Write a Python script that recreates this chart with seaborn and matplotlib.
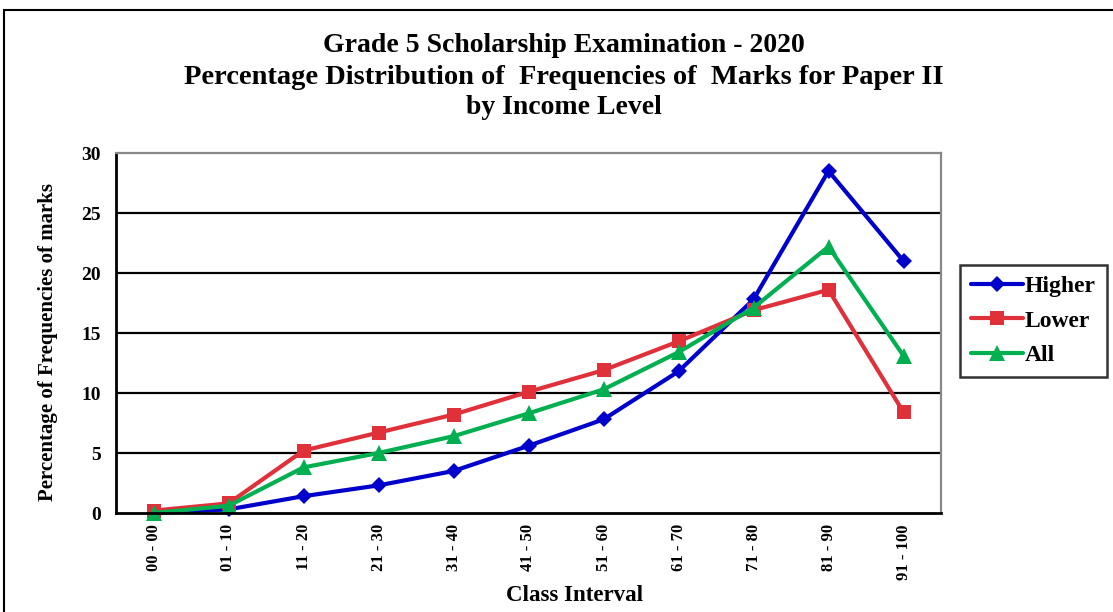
import matplotlib
matplotlib.use("Agg")
import matplotlib.pyplot as plt
import seaborn as sns
import pandas as pd
from matplotlib.patches import Rectangle

categories = ["00 - 00", "01 - 10", "11 - 20", "21 - 30", "31 - 40", "41 - 50",
              "51 - 60", "61 - 70", "71 - 80", "81 - 90", "91 - 100"]
higher = [0.0, 0.3, 1.4, 2.3, 3.5, 5.6, 7.8, 11.8, 17.8, 28.5, 21.0]
lower = [0.2, 0.8, 5.2, 6.7, 8.2, 10.1, 11.9, 14.3, 16.9, 18.6, 8.4]
all_ = [0.0, 0.6, 3.8, 5.0, 6.4, 8.3, 10.3, 13.4, 17.1, 22.2, 13.1]
yticks = [0, 5, 10, 15, 20, 25, 30]

df = pd.DataFrame({
    "Class Interval": categories * 3,
    "value": higher + lower + all_,
    "series": ["Higher"] * 11 + ["Lower"] * 11 + ["All"] * 11,
})

sns.set_theme(style="white")
plt.rcParams["font.family"] = ["Liberation Serif", "DejaVu Serif"]
plt.rcParams["font.weight"] = "bold"
for k in ["text.color", "axes.labelcolor", "xtick.color", "ytick.color"]:
    plt.rcParams[k] = "black"

fig = plt.figure(figsize=(11.13, 6.12), dpi=100)
ax = fig.add_axes([116 / 1113, 1 - 513 / 612, (941 - 116) / 1113, (513 - 153) / 612])

palette = {"Higher": "#0000CC", "Lower": "#E0303A", "All": "#00B050"}
markers = {"Higher": "D", "Lower": "s", "All": "^"}
msize = {"Higher": 8.5, "Lower": 10, "All": 11}

for s in ["Higher", "Lower", "All"]:
    sub = df[df["series"] == s]
    sns.lineplot(data=sub, x="Class Interval", y="value", ax=ax, color=palette[s],
                 marker=markers[s], markersize=msize[s], markeredgewidth=0,
                 linewidth=3, label=s, sort=False, clip_on=False)

ax.set_xlim(-0.5, len(categories) - 0.5)
ax.set_ylim(0, 30)
ax.set_yticks(yticks)
ax.set_yticklabels([str(v) for v in yticks], fontsize=14, fontweight="bold")
ax.set_xticks(range(len(categories)))
ax.set_xticklabels(categories, rotation=90, fontsize=12, fontweight="bold")
ax.set_xticks([i - 0.5 for i in range(len(categories) + 1)], minor=True)
ax.tick_params(axis="x", which="major", length=0, pad=8)
ax.tick_params(axis="x", which="minor", length=6, width=1.5, color="black", direction="inout")
ax.tick_params(axis="y", which="major", length=5, width=1.5, color="black", direction="out", pad=6)

for y in yticks[1:-1]:
    ax.axhline(y, color="black", linewidth=1.6, zorder=0)

for side in ["top", "right"]:
    ax.spines[side].set_color("#888888")
    ax.spines[side].set_linewidth(1.6)
for side in ["left", "bottom"]:
    ax.spines[side].set_color("black")
    ax.spines[side].set_linewidth(2)

ax.set_xlabel("Class Interval", fontsize=16.5, fontweight="bold")
ax.xaxis.set_label_coords((575 - 116) / 825, (513 - 585) / 360)
ax.set_ylabel("Percentage of Frequencies of marks", fontsize=15, fontweight="bold")
ax.yaxis.set_label_coords((58 - 116) / 825, (513 - 342) / 360)

cx = 564 / 1113
fig.text(cx, 1 - 45 / 612, "Grade 5 Scholarship Examination - 2020", ha="center", va="center",
         fontsize=20, fontweight="bold")
fig.text(cx, 1 - 77 / 612, "Percentage Distribution of  Frequencies of  Marks for Paper II",
         ha="center", va="center", fontsize=20.5, fontweight="bold")
fig.text(cx, 1 - 108 / 612, "by Income Level", ha="center", va="center",
         fontsize=20, fontweight="bold")

leg = ax.legend(loc="upper left", bbox_to_anchor=(960 / 1113, 1 - 265 / 612),
                bbox_transform=fig.transFigure, frameon=True, fancybox=False,
                prop={"family": "Liberation Serif", "weight": "bold", "size": 17},
                handlelength=2.2, handletextpad=0.1, borderpad=0.45, labelspacing=0.55,
                borderaxespad=0)
leg.get_frame().set_edgecolor("black")
leg.get_frame().set_linewidth(1.8)

fig.patches.append(Rectangle((4 / 1113, -0.05), 1.2, 1 - 10 / 612 + 0.05, transform=fig.transFigure,
                             fill=False, edgecolor="black", linewidth=1.5))

fig.savefig("out.png", dpi=100)
